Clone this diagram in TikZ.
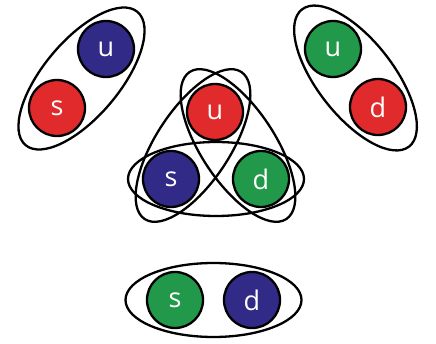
\documentclass[tikz,border=0pt]{standalone}
\usepackage{fontspec}
\setsansfont{Open Sans}
\usetikzlibrary{calc}
\definecolor{QuarkBlue}{HTML}{312A87}
\definecolor{QuarkRed}{HTML}{E02A2C}
\definecolor{QuarkGreen}{HTML}{22984A}

\begin{document}
\begin{tikzpicture}[
  x=1pt,y=1pt,
  quark/.style={circle,draw=black,line width=2.3pt,minimum size=56pt,inner sep=0pt,
                text=white,font=\sffamily\fontsize{27}{30}\selectfont},
  ring/.style={draw=black,line width=2.3pt},
]
  \useasboundingbox (0,0) rectangle (436,343);

  % top left pair
  \node[quark,fill=QuarkBlue] (ul) at (106,294) {u};
  \node[quark,fill=QuarkRed]  (sl) at (57,235) {s};
  \coordinate (ml) at ($(sl)!0.5!(ul)$);
  \draw[ring,rotate around={50:(ml)}] (ml) ellipse [x radius=87pt, y radius=38pt];

  % top right pair
  \node[quark,fill=QuarkGreen] (ur) at (333,294) {u};
  \node[quark,fill=QuarkRed]   (dr) at (378,236) {d};
  \coordinate (mr) at ($(ur)!0.5!(dr)$);
  \draw[ring,rotate around={-52:(mr)}] (mr) ellipse [x radius=87pt, y radius=38pt];

  % centre triplet
  \node[quark,fill=QuarkRed]   (uc) at (215,231) {u};
  \node[quark,fill=QuarkBlue]  (sc) at (171,164) {s};
  \node[quark,fill=QuarkGreen] (dc) at (261,164) {d};
  \coordinate (mus) at ($(uc)!0.5!(sc)$);
  \coordinate (mud) at ($(uc)!0.5!(dc)$);
  \coordinate (msd) at ($(sc)!0.5!(dc)$);
  \draw[ring] (msd) ellipse [x radius=88pt, y radius=37pt];
  \draw[ring,rotate around={56.7:(mus)}] (mus) ellipse [x radius=88pt, y radius=37pt];
  \draw[ring,rotate around={-56.7:(mud)}] (mud) ellipse [x radius=88pt, y radius=37pt];

  % bottom pair
  \node[quark,fill=QuarkGreen] (sb) at (175,43) {s};
  \node[quark,fill=QuarkBlue]  (db) at (252,43) {d};
  \coordinate (mb) at ($(sb)!0.5!(db)$);
  \draw[ring] (mb) ellipse [x radius=88pt, y radius=37pt];
\end{tikzpicture}
\end{document}
